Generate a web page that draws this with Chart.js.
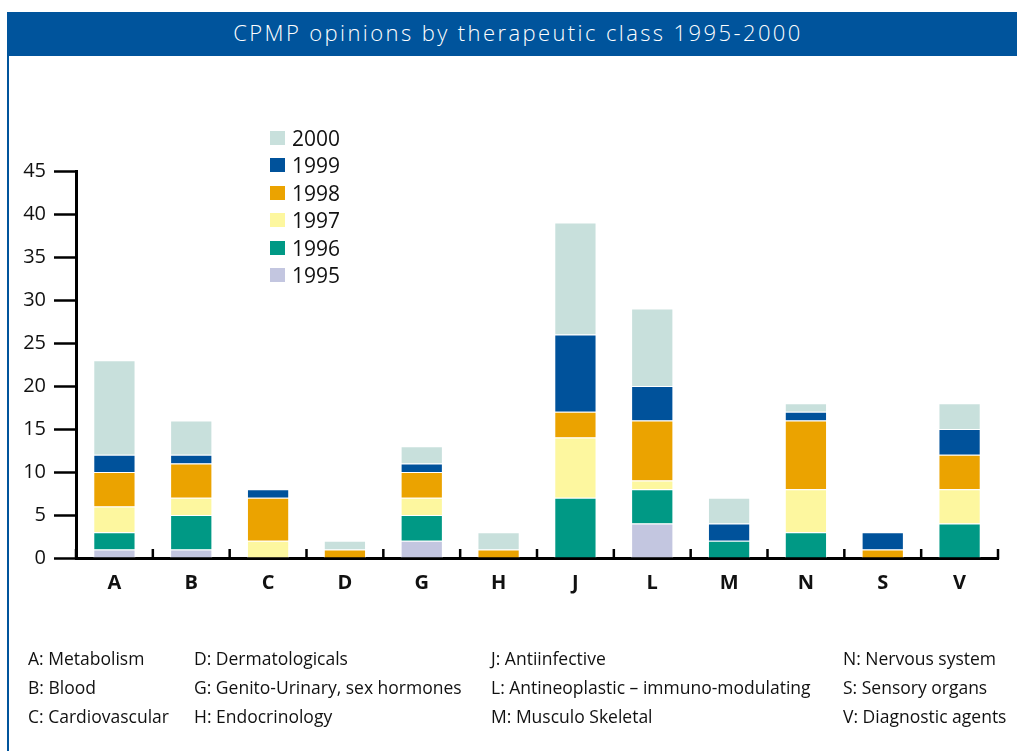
<!DOCTYPE html>
<html>
<head>
<meta charset="utf-8">
<script src="https://cdn.jsdelivr.net/npm/chart.js@4/dist/chart.umd.min.js"></script>
<style>
  html, body { margin:0; padding:0; background:#fff; width:1017px; height:751px; overflow:hidden; font-family:"Open Sans", sans-serif; }
  #titlebar { position:absolute; left:7px; top:12px; width:998px; padding-left:12px; height:44px; background:#00549c; color:#fff;
    font-size:22px; line-height:40px; text-align:center; letter-spacing:2.4px; font-weight:300; }
  #leftline { position:absolute; left:7px; top:56px; width:2px; height:695px; background:#00549c; }
  #wrap { position:absolute; left:0; top:0; width:1017px; height:751px; }
  #legend { position:absolute; left:270px; top:124px; }
  .lg { height:27.5px; display:flex; align-items:center; font-size:21px; color:#111; }
  .lg span.sw { width:15px; height:14px; display:inline-block; margin-right:7px; }
  .note { position:absolute; font-size:17.5px; color:#111; white-space:nowrap; line-height:20px; }
</style>
</head>
<body>
<div id="titlebar"></div>
<div id="leftline"></div>
<div id="wrap"><canvas id="c" width="1017" height="751"></canvas></div>
<div id="legend"></div>
<div id="notes"></div>
<script>
const titleText = 'CPMP opinions by therapeutic class 1995-2000';
const categories = ['A','B','C','D','G','H','J','L','M','N','S','V'];
const seriesNames = ['1995','1996','1997','1998','1999','2000'];
const v1995 = [1,1,0,0,2,0,0,4,0,0,0,0];
const v1996 = [2,4,0,0,3,0,7,4,2,3,0,4];
const v1997 = [3,2,2,0,2,0,7,1,0,5,0,4];
const v1998 = [4,4,5,1,3,1,3,7,0,8,1,4];
const v1999 = [2,1,1,0,1,0,9,4,2,1,2,3];
const v2000 = [11,4,0,1,2,2,13,9,3,1,0,3];
const seriesColors = ['#c3c6e0','#009985','#fdf79f','#eba300','#00529b','#c8e0dc'];
const yTicks = [0,5,10,15,20,25,30,35,40,45];
const noteColumns = [
  ['A: Metabolism','B: Blood','C: Cardiovascular'],
  ['D: Dermatologicals','G: Genito-Urinary, sex hormones','H: Endocrinology'],
  ['J: Antiinfective','L: Antineoplastic \u2013 immuno-modulating','M: Musculo Skeletal'],
  ['N: Nervous system','S: Sensory organs','V: Diagnostic agents']
];

document.getElementById('titlebar').textContent = titleText;

const seriesValues = [v1995, v1996, v1997, v1998, v1999, v2000];
const datasets = seriesNames.map((n, i) => ({
  label: n,
  data: seriesValues[i],
  backgroundColor: seriesColors[i],
  borderColor: '#ffffff',
  borderWidth: 1,
  barPercentage: 0.55,
  categoryPercentage: 1.0
}));

// legend (top = 2000)
const lg = document.getElementById('legend');
for (let i = seriesNames.length - 1; i >= 0; i--) {
  const d = document.createElement('div');
  d.className = 'lg';
  d.innerHTML = '<span class="sw" style="background:' + seriesColors[i] + '"></span>' + seriesNames[i];
  lg.appendChild(d);
}

// notes
const noteX = [28, 194, 491, 843];
const noteY = [648, 677, 706];
const notes = document.getElementById('notes');
noteColumns.forEach((col, ci) => col.forEach((t, ri) => {
  const d = document.createElement('div');
  d.className = 'note';
  d.style.left = noteX[ci] + 'px';
  d.style.top = noteY[ri] + 'px';
  d.textContent = t;
  notes.appendChild(d);
}));

const catTicks = {
  id: 'catTicks',
  afterDraw(chart) {
    const xs = chart.scales.x, ctx = chart.ctx;
    const n = categories.length;
    const half = (xs.getPixelForValue(1) - xs.getPixelForValue(0)) / 2;
    ctx.save();
    ctx.strokeStyle = '#000';
    ctx.lineWidth = 2.5;
    for (let i = 0; i <= n; i++) {
      const x = (i < n ? xs.getPixelForValue(i) - half : xs.getPixelForValue(n - 1) + half);
      ctx.beginPath();
      ctx.moveTo(x, xs.top + 1);
      ctx.lineTo(x, xs.top - 9);
      ctx.stroke();
    }
    ctx.restore();
  }
};

new Chart(document.getElementById('c'), {
  type: 'bar',
  data: { labels: categories, datasets },
  plugins: [catTicks],
  options: {
    responsive: false,
    animation: false,
    layout: { padding: { left: 0, top: 171, right: 19, bottom: 133 } },
    plugins: { legend: { display: false }, tooltip: { enabled: false }, title: { display: false } },
    scales: {
      x: {
        stacked: true,
        offset: true,
        grid: { display: false, drawTicks: false },
        border: { display: true, color: '#000', width: 3 },
        ticks: { color: '#111', font: { family: 'Open Sans', size: 20, weight: 'bold' }, padding: 13 },
        afterFit(s) { s.height = 60; }
      },
      y: {
        stacked: true,
        min: 0, max: 45,
        afterBuildTicks(s) { s.ticks = yTicks.map(v => ({ value: v })); },
        grid: { drawOnChartArea: false, drawTicks: true, tickLength: 22, tickWidth: 2.5, tickColor: '#000' },
        border: { display: true, color: '#000', width: 3 },
        ticks: { color: '#111', font: { family: 'Open Sans', size: 20 }, padding: 8 },
        afterFit(s) { s.width = 76; }
      }
    }
  }
});
</script>
</body>
</html>
